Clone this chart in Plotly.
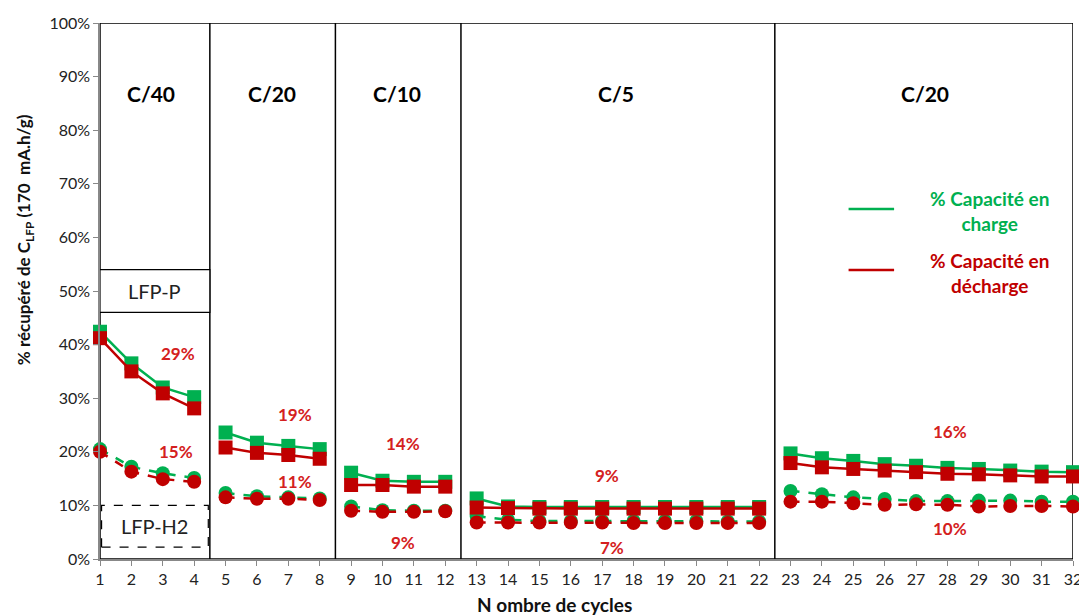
import plotly.graph_objects as go

# ---------------- data ----------------
cycles = list(range(1, 33))
segment_sizes = [4, 4, 4, 10, 10]
rate_labels = ["C/40", "C/20", "C/10", "C/5", "C/20"]

# LFP-P (squares)
charge_P = [42.4, 36.5, 32.0, 30.2,
            23.6, 21.7, 21.1, 20.5,
            16.1, 14.6, 14.4, 14.4,
            11.3, 9.8, 9.7, 9.7, 9.7, 9.7, 9.7, 9.7, 9.7, 9.7,
            19.7, 18.8, 18.3, 17.7, 17.4, 17.0, 16.8, 16.5, 16.3, 16.2]
discharge_P = [41.2, 35.0, 30.9, 28.1,
               20.8, 19.8, 19.4, 18.7,
               13.8, 13.8, 13.5, 13.5,
               9.6, 9.5, 9.4, 9.4, 9.4, 9.4, 9.4, 9.4, 9.4, 9.4,
               17.9, 17.1, 16.8, 16.5, 16.2, 15.9, 15.8, 15.6, 15.4, 15.4]
# LFP-H2 (circles)
charge_H2 = [20.5, 17.2, 16.0, 15.1,
             12.3, 11.7, 11.5, 11.3,
             9.8, 9.1, 9.0, 9.0,
             8.0, 7.3, 7.1, 7.1, 7.1, 7.1, 7.1, 7.1, 7.0, 7.0,
             12.7, 12.1, 11.5, 11.2, 10.8, 10.8, 10.9, 10.9, 10.7, 10.7]
discharge_H2 = [20.0, 16.3, 14.9, 14.4,
                11.5, 11.25, 11.25, 11.0,
                9.0, 8.8, 8.8, 8.9,
                6.8, 6.8, 6.8, 6.8, 6.8, 6.7, 6.7, 6.7, 6.7, 6.7,
                10.7, 10.7, 10.4, 10.1, 10.2, 10.1, 9.8, 9.9, 9.9, 9.8]

loss_P = ["29%", "19%", "14%", "9%", "16%"]
loss_H2 = ["15%", "11%", "9%", "7%", "10%"]
y_ticks = list(range(0, 101, 10))
y_tick_text = [f"{v}%" for v in y_ticks]

GREEN = "#00B050"
RED = "#C00000"
FONT = "Lato, 'Open Sans', sans-serif"

fig = go.Figure()

bounds = []
s = 0
for n in segment_sizes:
    bounds.append((s, s + n))
    s += n

def add_series(values, color, symbol, dash):
    for a, b in bounds:
        fig.add_trace(go.Scatter(
            x=cycles[a:b], y=values[a:b], mode="lines+markers",
            line=dict(color=color, width=2.5, dash=dash),
            marker=dict(symbol=symbol, size=14, color=color),
            cliponaxis=False, showlegend=False, hoverinfo="x+y"))

add_series(charge_H2, GREEN, "circle", "dash")
add_series(discharge_H2, RED, "circle", "dash")
add_series(charge_P, GREEN, "square", "solid")
add_series(discharge_P, RED, "square", "solid")

shapes = []
shapes.append(dict(type="rect", xref="x", yref="y", x0=1, x1=32, y0=0, y1=100,
                   line=dict(color="black", width=1.5), layer="below"))
for a, b in bounds[:-1]:
    xs = cycles[b - 1] + 0.5
    shapes.append(dict(type="line", xref="x", yref="y", x0=xs, x1=xs, y0=-2, y1=100,
                       line=dict(color="black", width=1.5), layer="below"))

annotations = []
centers = [2.64, 6.47, 10.46, 17.45, 27.3]
for lab, cx in zip(rate_labels, centers):
    annotations.append(dict(x=cx, y=86.9, xref="x", yref="y", text=f"<b>{lab}</b>",
                            showarrow=False, font=dict(size=21, color="black", family=FONT)))
pos_P = [(3.47, 38.4), (7.2, 26.9), (10.65, 21.6), (17.16, 15.5), (28.07, 23.7)]
pos_H2 = [(3.41, 20.0), (7.2, 14.4), (10.65, 3.0), (17.3, 2.2), (28.07, 5.6)]
for t, (px, py) in zip(loss_P, pos_P):
    annotations.append(dict(x=px, y=py, xref="x", yref="y", text=f"<b>{t}</b>",
                            showarrow=False, font=dict(size=17, color="#D42020", family=FONT)))
for t, (px, py) in zip(loss_H2, pos_H2):
    annotations.append(dict(x=px, y=py, xref="x", yref="y", text=f"<b>{t}</b>",
                            showarrow=False, font=dict(size=17, color="#D42020", family=FONT)))

shapes.append(dict(type="rect", xref="x", yref="y", x0=1, x1=4.5, y0=46, y1=54,
                   line=dict(color="black", width=1.2), fillcolor="white"))
annotations.append(dict(x=2.75, y=50, xref="x", yref="y", text="LFP-P", showarrow=False,
                        font=dict(size=20, color="#222222", family=FONT)))
shapes.append(dict(type="rect", xref="x", yref="y", x0=1.05, x1=4.45, y0=2.2, y1=10,
                   line=dict(color="black", width=1.2, dash="dash")))
annotations.append(dict(x=2.75, y=6.1, xref="x", yref="y", text="LFP-H2", showarrow=False,
                        font=dict(size=20, color="#222222", family=FONT)))

# custom legend
shapes.append(dict(type="line", xref="x", yref="y", x0=24.85, x1=26.3, y0=65.3, y1=65.3,
                   line=dict(color=GREEN, width=2.5)))
shapes.append(dict(type="line", xref="x", yref="y", x0=24.85, x1=26.3, y0=53.9, y1=53.9,
                   line=dict(color=RED, width=2.5)))
annotations.append(dict(x=29.35, y=64.9, xref="x", yref="y",
                        text="<b>% Capacité en<br>charge</b>", showarrow=False, align="center",
                        font=dict(size=19, color=GREEN, family=FONT)))
annotations.append(dict(x=29.35, y=53.3, xref="x", yref="y",
                        text="<b>% Capacité en<br>décharge</b>", showarrow=False, align="center",
                        font=dict(size=19, color=RED, family=FONT)))

# axis titles
annotations.append(dict(x=-0.077, y=0.595, xref="paper", yref="paper", textangle=-90,
                        xanchor="center", yanchor="middle",
                        text="<b>% récupéré de C<sub>LFP</sub> (170  mA.h/g)</b>", showarrow=False,
                        font=dict(size=17, color="#111111", family=FONT)))
annotations.append(dict(x=0.4666, y=-0.084, xref="paper", yref="paper",
                        xanchor="center", yanchor="middle",
                        text="<b>N ombre de cycles</b>", showarrow=False,
                        font=dict(size=19, color="#111111", family=FONT)))

fig.update_layout(
    width=1079, height=607,
    margin=dict(l=92, r=14, t=15, b=56),
    paper_bgcolor="white", plot_bgcolor="white",
    font=dict(family=FONT, size=16, color="#222222"),
    shapes=shapes, annotations=annotations,
    xaxis=dict(range=[1, 32], tickmode="array", tickvals=cycles, ticktext=[str(c) for c in cycles],
               showgrid=False, zeroline=False, showline=True, linecolor="#888888", linewidth=1.5,
               ticks="outside", ticklen=5, tickcolor="#888888", automargin=False,
               tickfont=dict(size=16, color="#222222")),
    yaxis=dict(range=[0, 100], tickmode="array", tickvals=y_ticks, ticktext=y_tick_text,
               showgrid=False, zeroline=False, showline=True, linecolor="#888888", linewidth=1.5,
               ticks="outside", ticklen=5, tickcolor="#888888", automargin=False,
               tickfont=dict(size=16, color="#222222")),
)

fig.write_html("out.html")
